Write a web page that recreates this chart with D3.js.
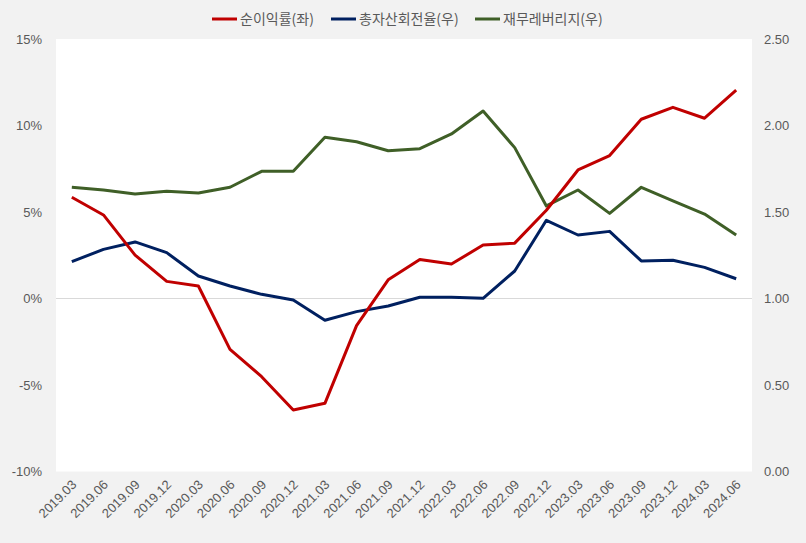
<!DOCTYPE html>
<html><head><meta charset="utf-8">
<script src="https://cdn.jsdelivr.net/npm/d3@7"></script>
<style>
html,body{margin:0;padding:0;background:#f2f2f2;}
svg{display:block;font-family:"Noto Sans CJK KR","Noto Sans",sans-serif;}
</style></head>
<body>
<svg id="chart" width="806" height="543"></svg>
<script>
const categories = ["2019.03","2019.06","2019.09","2019.12","2020.03","2020.06","2020.09","2020.12","2021.03","2021.06","2021.09","2021.12","2022.03","2022.06","2022.09","2022.12","2023.03","2023.06","2023.09","2023.12","2024.03","2024.06"];
const netMargin = [5.85,4.83,2.51,0.99,0.72,-2.94,-4.52,-6.45,-6.06,-1.57,1.08,2.26,1.99,3.09,3.2,5.1,7.43,8.26,10.36,11.05,10.42,12.05];
const assetTurnover = [1.213,1.284,1.327,1.265,1.130,1.072,1.024,0.991,0.874,0.924,0.957,1.007,1.007,1.001,1.159,1.452,1.367,1.388,1.217,1.221,1.180,1.114];
const leverage = [1.643,1.627,1.604,1.620,1.610,1.643,1.735,1.735,1.932,1.906,1.854,1.866,1.951,2.084,1.872,1.535,1.627,1.492,1.643,1.565,1.488,1.367];
const leftTicks = [-10,-5,0,5,10,15];
const rightTicks = [0,0.5,1,1.5,2,2.5];
const seriesNames = ["순이익률(좌)","총자산회전율(우)","재무레버리지(우)"];
const seriesColors = ["#c00000","#002060","#3f5f27"];

const svg = d3.select("#chart");
const L = 56, R = 752, T = 39, B = 471.5;

svg.append("rect").attr("x",L).attr("y",T).attr("width",R-L).attr("height",B-T).attr("fill","#ffffff");

const x = d3.scalePoint().domain(categories).range([L,R]).padding(0.5);
const yL = d3.scaleLinear().domain([-10,15]).range([B,T]);
const yR = d3.scaleLinear().domain([0,2.5]).range([B,T]);

svg.append("line").attr("x1",L).attr("x2",R).attr("y1",yL(0)).attr("y2",yL(0))
  .attr("stroke","#d9d9d9").attr("stroke-width",1);

const axL = svg.append("g").attr("transform",`translate(${L},0)`)
  .call(d3.axisLeft(yL).tickValues(leftTicks).tickFormat(d=>d+"%").tickSize(0).tickPadding(14));
axL.select(".domain").remove();
axL.selectAll("text").attr("fill","#595959").style("font-size","13px").style("font-family","'Liberation Sans',Arial,sans-serif");

const axR = svg.append("g").attr("transform",`translate(${R},0)`)
  .call(d3.axisRight(yR).tickValues(rightTicks).tickFormat(d3.format(".2f")).tickSize(0).tickPadding(12));
axR.select(".domain").remove();
axR.selectAll("text").attr("fill","#595959").style("font-size","13px").style("font-family","'Liberation Sans',Arial,sans-serif");

const axX = svg.append("g").attr("transform",`translate(0,${B})`)
  .call(d3.axisBottom(x).tickSize(0).tickPadding(0));
axX.select(".domain").remove();
axX.selectAll("text")
  .attr("fill","#595959").style("font-size","13px").style("font-family","'Liberation Sans',Arial,sans-serif")
  .attr("text-anchor","end")
  .attr("dy",null).attr("y",null)
  .attr("transform","translate(5,14) rotate(-45)");

const lineL = d3.line().x((d,i)=>x(categories[i])).y(d=>yL(d));
const lineR = d3.line().x((d,i)=>x(categories[i])).y(d=>yR(d));
const g = svg.append("g").attr("fill","none").attr("stroke-width",3).attr("stroke-linejoin","round");
g.append("path").datum(leverage).attr("d",lineR).attr("stroke",seriesColors[2]);
g.append("path").datum(assetTurnover).attr("d",lineR).attr("stroke",seriesColors[1]);
g.append("path").datum(netMargin).attr("d",lineL).attr("stroke",seriesColors[0]);

const legX = [212,331,475];
const leg = svg.append("g");
seriesNames.forEach((n,i)=>{
  leg.append("line").attr("x1",legX[i]).attr("x2",legX[i]+25).attr("y1",19).attr("y2",19)
    .attr("stroke",seriesColors[i]).attr("stroke-width",3);
  leg.append("text").attr("x",legX[i]+28).attr("y",19).attr("dy","0.35em")
    .attr("fill","#595959").style("font-size","14px").text(n);
});
</script>
</body></html>
